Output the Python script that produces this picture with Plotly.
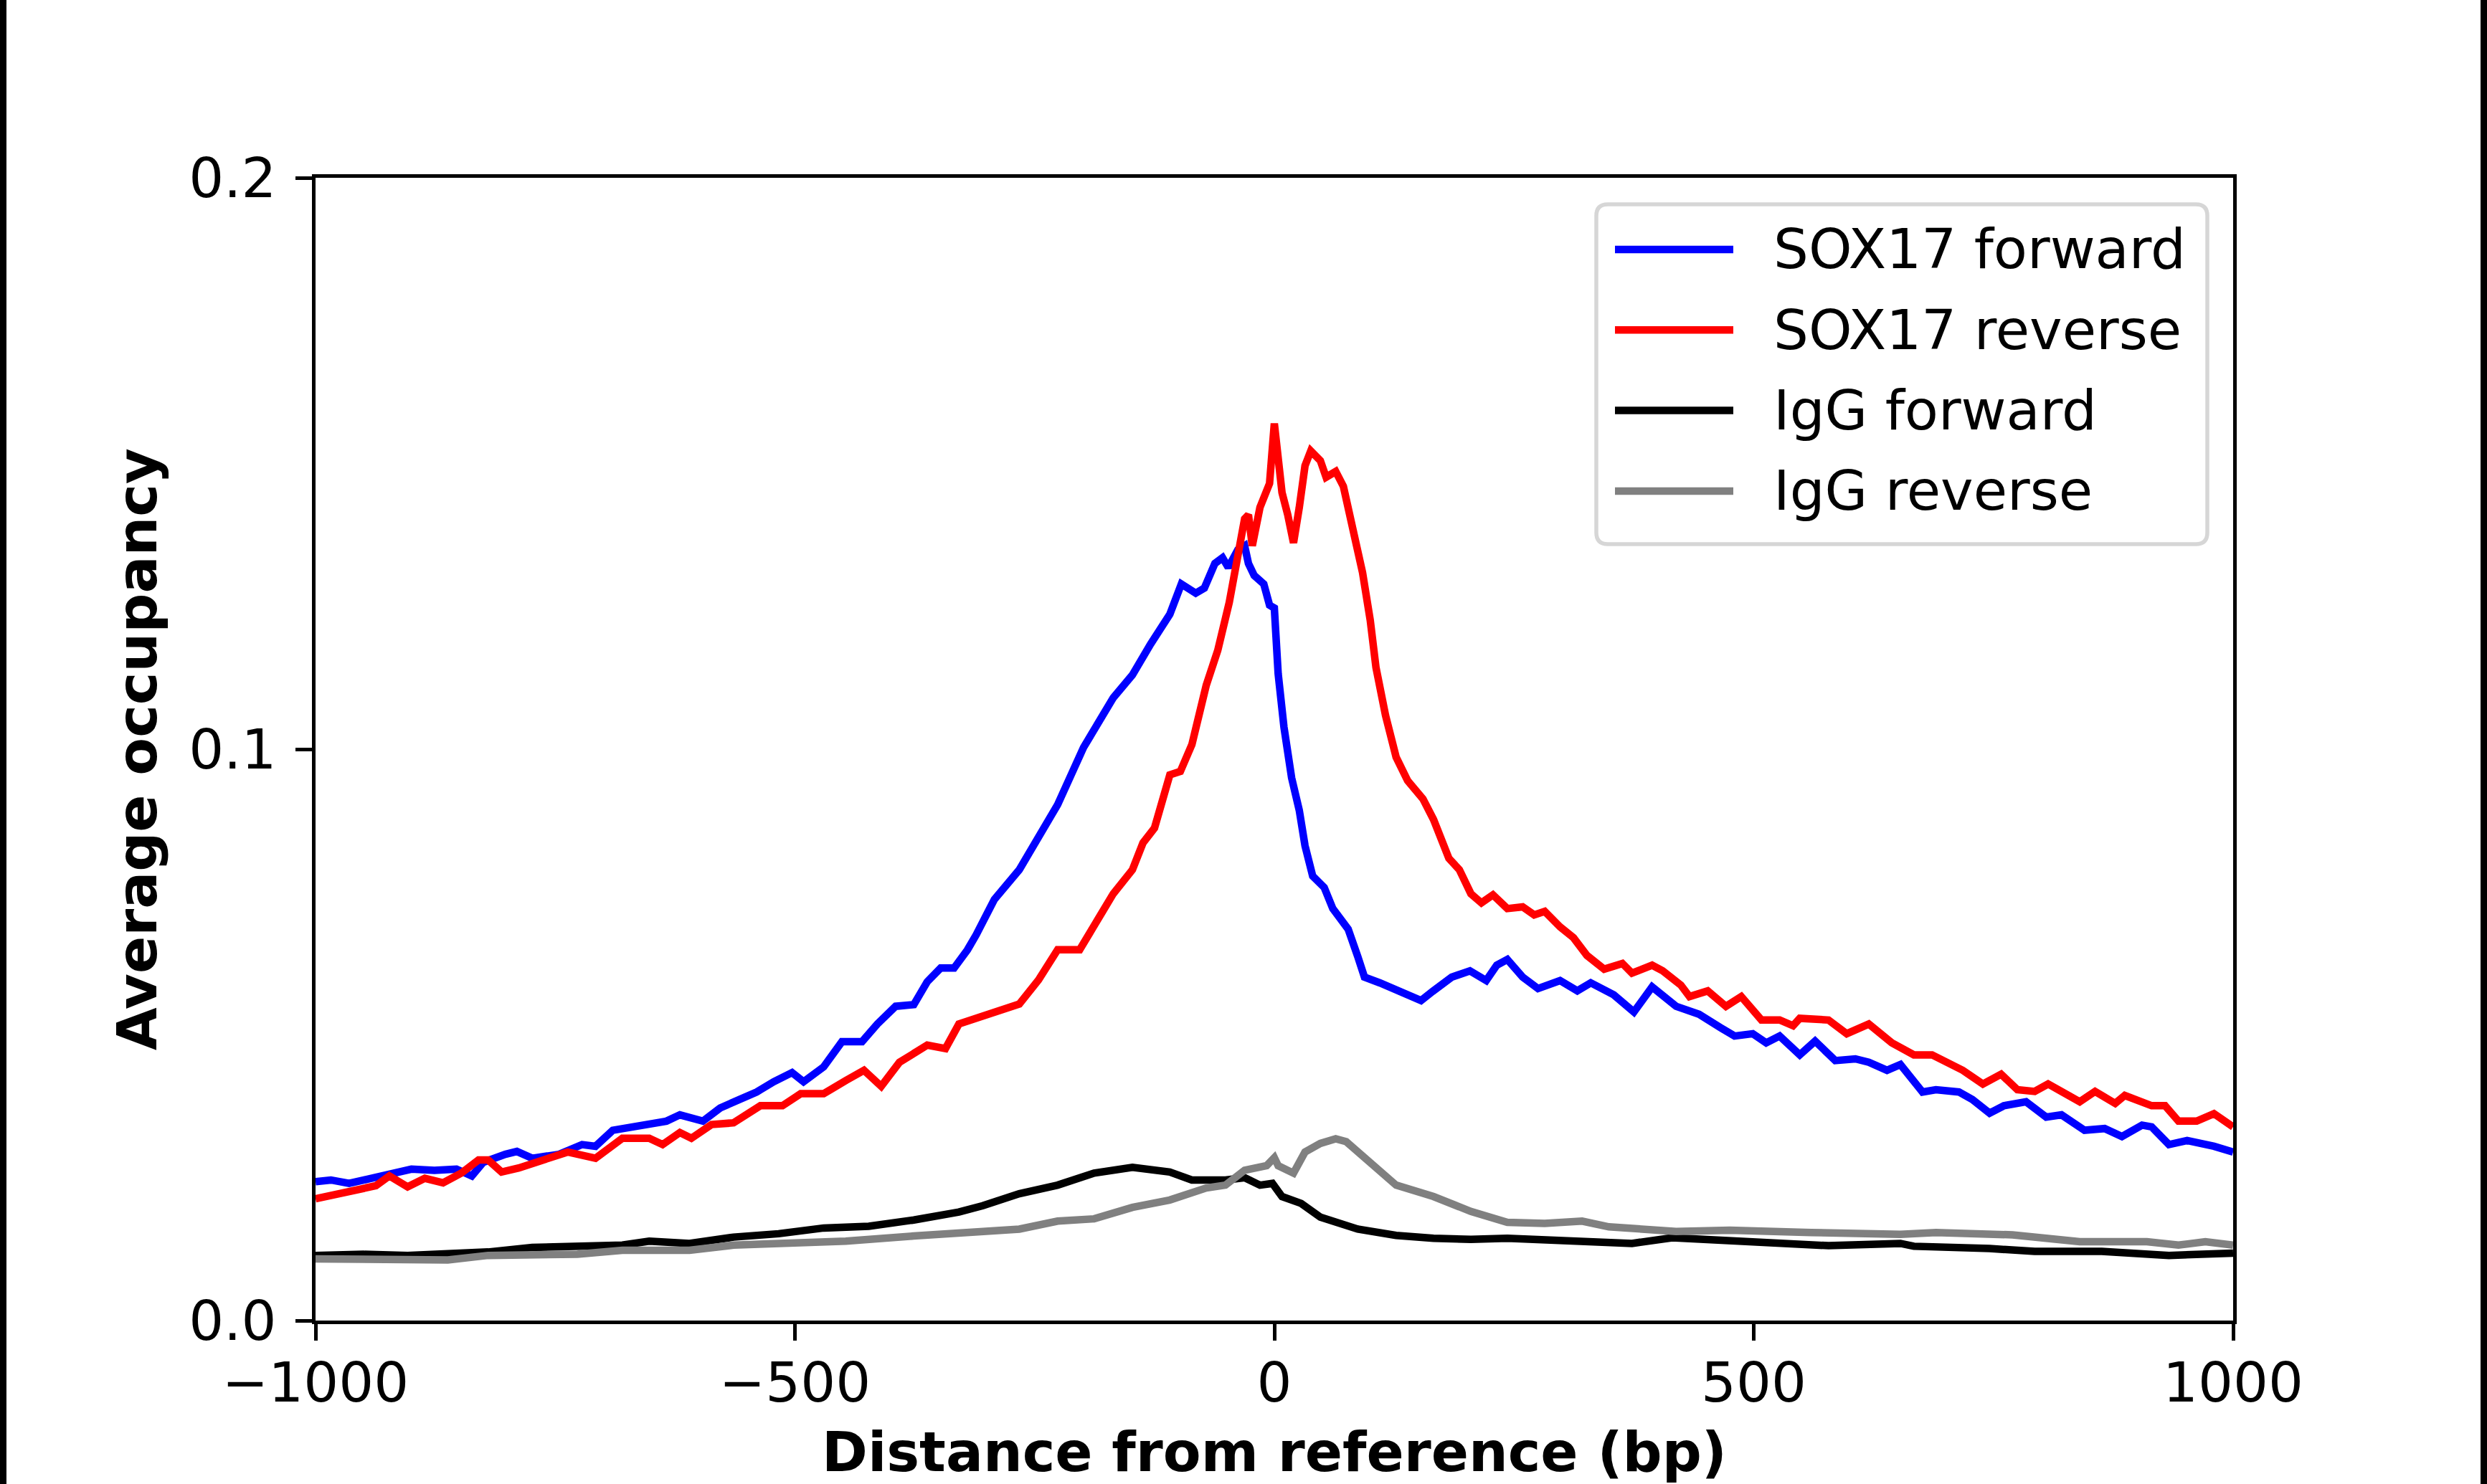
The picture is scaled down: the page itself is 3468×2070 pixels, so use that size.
import plotly.graph_objects as go

# SOX17 forward (blue)
sox17_fwd_bp = [-1000, -984, -965, -946, -928, -900, -876, -853, -837, -825, -802, -790, -774, -746,
                -722, -708, -690, -662, -634, -620, -596, -578, -564, -540, -522, -503, -491, -470,
                -451, -430, -414, -395, -376, -362, -348, -334, -320, -311, -292, -266, -226, -199,
                -168, -148, -129, -109, -97, -82, -73, -62, -54, -48, -38, -31, -27, -21, -11, -5,
                0, 4, 10, 18, 26, 32, 40, 52, 61, 77, 87, 94, 110, 130, 153, 165, 185, 204, 221,
                232, 243, 259, 275, 298, 316, 330, 354, 375, 394, 419, 443, 466, 480, 499, 513,
                527, 548, 564, 585, 606, 620, 639, 653, 676, 690, 714, 728, 746, 761, 784, 805,
                821, 845, 866, 884, 905, 915, 933, 952, 980, 1000]
sox17_fwd_occ = [0.0243, 0.0246, 0.0240, 0.0248, 0.0253, 0.0265, 0.0263, 0.0265, 0.0253, 0.0277,
                 0.0291, 0.0296, 0.0284, 0.0291, 0.0308, 0.0305, 0.0333, 0.0340, 0.0349, 0.0360,
                 0.0349, 0.0372, 0.0382, 0.0400, 0.0418, 0.0434, 0.0418, 0.0444, 0.0488, 0.0488,
                 0.0519, 0.0550, 0.0553, 0.0593, 0.0617, 0.0617, 0.0649, 0.0675, 0.0737, 0.0789,
                 0.0903, 0.1003, 0.1090, 0.1130, 0.1184, 0.1236, 0.1289, 0.1273, 0.1282, 0.1325,
                 0.1335, 0.1318, 0.1349, 0.1356, 0.1325, 0.1304, 0.1289, 0.1252, 0.1247, 0.1132,
                 0.1039, 0.0950, 0.0893, 0.0831, 0.0778, 0.0758, 0.0721, 0.0685, 0.0637, 0.0601,
                 0.0591, 0.0576, 0.0560, 0.0576, 0.0601, 0.0612, 0.0595, 0.0622, 0.0632, 0.0601,
                 0.0581, 0.0595, 0.0577, 0.0591, 0.0570, 0.0540, 0.0584, 0.0550, 0.0536, 0.0512,
                 0.0498, 0.0502, 0.0486, 0.0498, 0.0465, 0.0489, 0.0455, 0.0458, 0.0452, 0.0438,
                 0.0448, 0.0400, 0.0404, 0.0400, 0.0387, 0.0363, 0.0376, 0.0383, 0.0356, 0.0360,
                 0.0333, 0.0336, 0.0322, 0.0342, 0.0339, 0.0308, 0.0315, 0.0305, 0.0295]

# SOX17 reverse (red)
sox17_rev_bp = [-1000, -979, -960, -937, -923, -904, -886, -867, -848, -830, -820, -806, -788, -765,
                -737, -708, -680, -652, -638, -620, -608, -587, -564, -536, -513, -494, -470, -447,
                -428, -410, -391, -362, -343, -329, -306, -266, -246, -226, -203, -188, -168, -148,
                -137, -125, -109, -98, -86, -71, -59, -47, -39, -31, -27, -23, -15, -5, 0, 4, 8,
                14, 20, 26, 32, 38, 48, 54, 64, 72, 82, 92, 100, 106, 116, 127, 139, 155, 166, 182,
                193, 205, 216, 228, 243, 259, 271, 282, 298, 312, 326, 344, 363, 373, 394, 405,
                424, 433, 452, 471, 487, 508, 527, 541, 548, 578, 597, 620, 644, 667, 686, 700,
                718, 739, 758, 775, 793, 807, 840, 856, 877, 887, 915, 929, 943, 962, 980, 1000]
sox17_rev_occ = [0.0213, 0.0221, 0.0230, 0.0236, 0.0253, 0.0234, 0.0249, 0.0241, 0.0258, 0.0281,
                 0.0281, 0.0260, 0.0267, 0.0281, 0.0295, 0.0284, 0.0319, 0.0319, 0.0308, 0.0329,
                 0.0319, 0.0343, 0.0346, 0.0376, 0.0376, 0.0397, 0.0397, 0.0420, 0.0438, 0.0410,
                 0.0452, 0.0482, 0.0476, 0.0519, 0.0533, 0.0554, 0.0596, 0.0649, 0.0649, 0.0690,
                 0.0747, 0.0789, 0.0836, 0.0862, 0.0955, 0.0961, 0.1008, 0.1112, 0.1173, 0.1257,
                 0.1330, 0.1403, 0.1410, 0.1356, 0.1423, 0.1465, 0.1570, 0.1496, 0.1449, 0.1410,
                 0.1361, 0.1423, 0.1496, 0.1522, 0.1505, 0.1476, 0.1486, 0.1460, 0.1381, 0.1309,
                 0.1226, 0.1143, 0.1059, 0.0986, 0.0945, 0.0913, 0.0877, 0.0809, 0.0789, 0.0747,
                 0.0731, 0.0745, 0.0721, 0.0724, 0.0710, 0.0716, 0.0689, 0.0670, 0.0639, 0.0615,
                 0.0625, 0.0608, 0.0622, 0.0612, 0.0587, 0.0567, 0.0577, 0.0550, 0.0567, 0.0526,
                 0.0526, 0.0516, 0.0529, 0.0526, 0.0502, 0.0519, 0.0486, 0.0465, 0.0465, 0.0452,
                 0.0438, 0.0414, 0.0431, 0.0404, 0.0401, 0.0414, 0.0383, 0.0401, 0.0380, 0.0394,
                 0.0376, 0.0376, 0.0349, 0.0349, 0.0362, 0.0339]

# IgG forward (black)
igg_fwd_bp = [-1000, -950, -904, -862, -820, -774, -727, -680, -652, -610, -564, -517, -470, -423,
              -376, -329, -304, -266, -226, -188, -148, -109, -86, -51, -31, -15, -2, 8, 28, 48,
              87, 127, 166, 205, 243, 282, 326, 373, 415, 513, 578, 653, 667, 746, 793, 863, 933,
              1000]
igg_fwd_occ = [0.0114, 0.0116, 0.0114, 0.0118, 0.0120, 0.0128, 0.0130, 0.0132, 0.0139, 0.0135,
               0.0146, 0.0152, 0.0162, 0.0165, 0.0176, 0.0190, 0.0201, 0.0222, 0.0237, 0.0258,
               0.0268, 0.0260, 0.0246, 0.0246, 0.0250, 0.0237, 0.0240, 0.0217, 0.0205, 0.0181,
               0.0160, 0.0149, 0.0144, 0.0142, 0.0144, 0.0142, 0.0138, 0.0135, 0.0145, 0.0138,
               0.0131, 0.0135, 0.0130, 0.0126, 0.0121, 0.0121, 0.0114, 0.0118]

# IgG reverse (grey)
igg_rev_bp = [-1000, -904, -862, -820, -727, -680, -610, -564, -494, -447, -376, -329, -304, -266,
              -226, -188, -148, -109, -71, -51, -31, -8, 0, 4, 20, 32, 48, 64, 75, 87, 106, 127,
              166, 205, 243, 282, 321, 349, 419, 475, 560, 653, 690, 770, 840, 910, 943, 971, 1000]
igg_rev_occ = [0.0108, 0.0108, 0.0106, 0.0114, 0.0116, 0.0123, 0.0123, 0.0132, 0.0135, 0.0139,
               0.0148, 0.0153, 0.0157, 0.0160, 0.0174, 0.0178, 0.0198, 0.0211, 0.0232, 0.0237,
               0.0263, 0.0271, 0.0285, 0.0271, 0.0258, 0.0295, 0.0310, 0.0318, 0.0313, 0.0295,
               0.0268, 0.0237, 0.0217, 0.0191, 0.0172, 0.0170, 0.0174, 0.0164, 0.0156, 0.0158,
               0.0154, 0.0151, 0.0154, 0.0150, 0.0138, 0.0138, 0.0132, 0.0138, 0.0132]

names = ["SOX17 forward", "SOX17 reverse", "IgG forward", "IgG reverse"]
colors = ["#0000ff", "#ff0000", "#000000", "#808080"]

x_ticks = [-1000, -500, 0, 500, 1000]
x_ticktext = ["\u22121000", "\u2212500", "0", "500", "1000"]
y_ticks = [0, 0.1, 0.2]
y_ticktext = ["0.0", "0.1", "0.2"]

W, H = 3468, 2070
L, R, T, B = 440, 354, 248, 228
FONT = "DejaVu Sans"
FS = 77
LW = 10.5

series = [(sox17_fwd_bp, sox17_fwd_occ), (sox17_rev_bp, sox17_rev_occ),
          (igg_fwd_bp, igg_fwd_occ), (igg_rev_bp, igg_rev_occ)]

fig = go.Figure()
for (xs, ys), name, col in zip(series, names, colors):
    fig.add_trace(go.Scatter(x=xs, y=ys, mode="lines", name=name,
                             line=dict(color=col, width=LW)))

axis_common = dict(showline=True, linecolor="black", linewidth=5, mirror=True,
                   ticks="outside", ticklen=23, tickwidth=5, tickcolor="black",
                   showgrid=False, zeroline=False,
                   tickfont=dict(family=FONT, size=FS, color="black"))

fig.update_xaxes(range=[-1000, 1000], tickvals=x_ticks, ticktext=x_ticktext,
                 ticklabelstandoff=-7,
                 title=dict(text="Distance from reference (bp)", standoff=46,
                            font=dict(family=FONT, size=FS, color="black", weight="bold")),
                 **axis_common)
fig.update_yaxes(range=[0, 0.2], tickvals=y_ticks, ticktext=y_ticktext,
                 ticklabelstandoff=11,
                 title=dict(text="Average occupancy", standoff=21,
                            font=dict(family=FONT, size=FS, color="black", weight="bold")),
                 **axis_common)

# hand-drawn legend box in the matplotlib style (long line samples, rounded frame)
pw, ph = W - L - R, H - T - B
def px_x(X):
    return (X - L) / pw
def px_y(Y):
    return (H - B - Y) / ph

bx0, bx1, by0, by1, rad = 2226, 3078, 285, 759, 16
rx, ry = rad / pw, rad / ph
x0, x1, y0, y1 = px_x(bx0), px_x(bx1), px_y(by1), px_y(by0)
frame = (f"M{x0 + rx},{y1} L{x1 - rx},{y1} Q{x1},{y1} {x1},{y1 - ry} "
         f"L{x1},{y0 + ry} Q{x1},{y0} {x1 - rx},{y0} L{x0 + rx},{y0} "
         f"Q{x0},{y0} {x0},{y0 + ry} L{x0},{y1 - ry} Q{x0},{y1} {x0 + rx},{y1} Z")
fig.add_shape(type="path", path=frame, xref="paper", yref="paper",
              fillcolor="rgba(255,255,255,0.8)", line=dict(color="#d6d6d6", width=5.5))

row0, step = 348, 112.3
for i, (name, col) in enumerate(zip(names, colors)):
    yy = px_y(row0 + i * step)
    fig.add_shape(type="line", xref="paper", yref="paper", x0=px_x(2252), x1=px_x(2417),
                  y0=yy, y1=yy, line=dict(color=col, width=LW))
    fig.add_annotation(x=px_x(2471), y=yy, xref="paper", yref="paper", text=name,
                       showarrow=False, xanchor="left", yanchor="middle",
                       font=dict(family=FONT, size=FS, color="black"))

# black strips at the left and right edges of the picture
for a, b in [(0, 9), (W - 9, W + 20)]:
    fig.add_shape(type="rect", xref="paper", yref="paper", x0=px_x(a), x1=px_x(b),
                  y0=px_y(H + 5), y1=px_y(-5), fillcolor="black", line=dict(width=0),
                  layer="above")

fig.update_layout(width=W, height=H, showlegend=False,
                  margin=dict(l=L, r=R, t=T, b=B, autoexpand=False),
                  plot_bgcolor="white", paper_bgcolor="white",
                  font=dict(family=FONT, size=FS, color="black"))

fig.write_html("out.html", config={"displayModeBar": False},
               post_script="document.body.style.margin='0px';document.body.style.overflow='hidden';")
